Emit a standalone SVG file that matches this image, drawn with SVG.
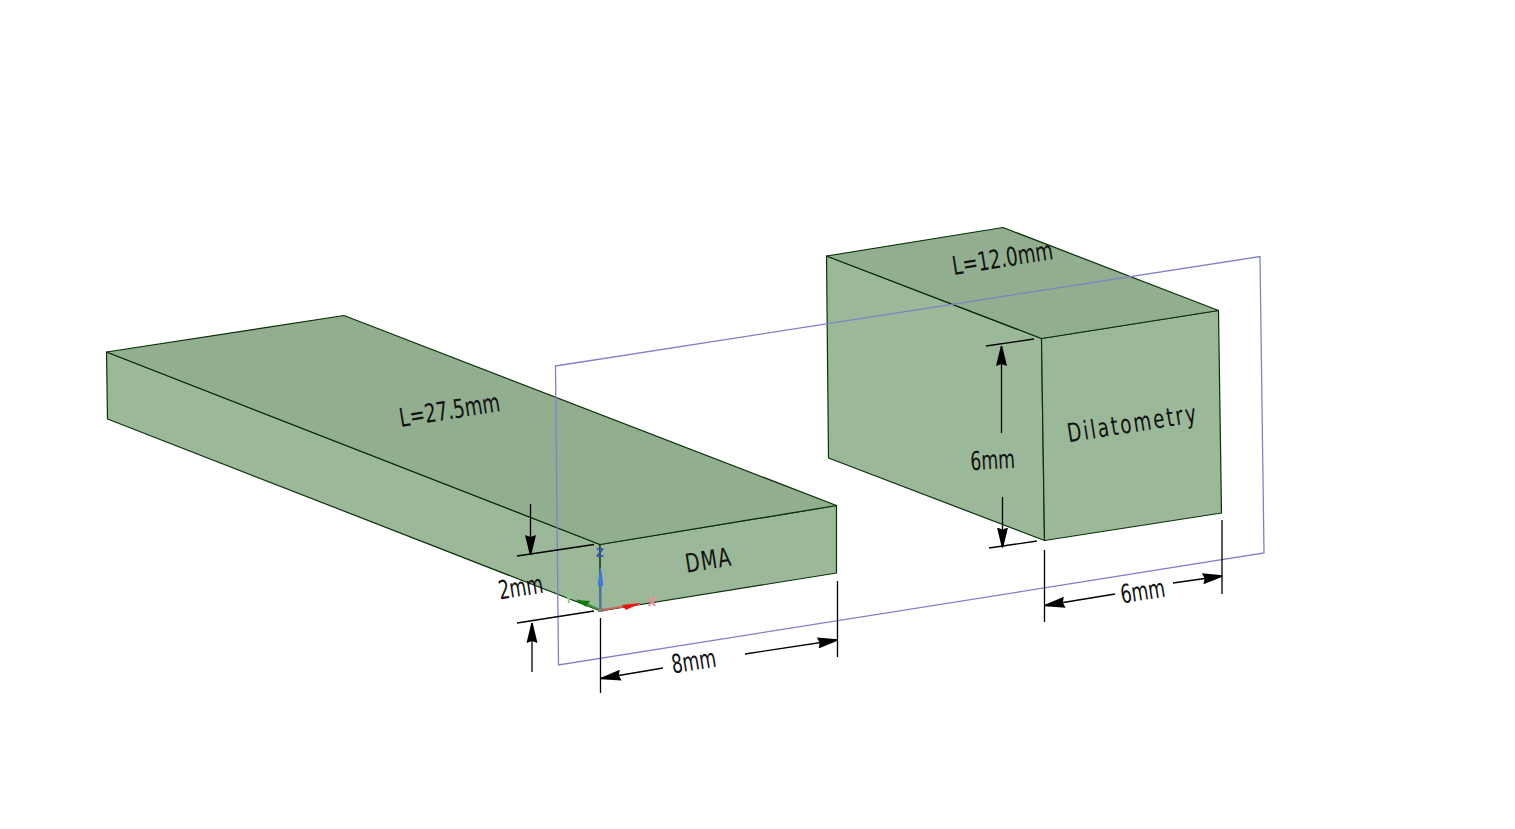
<svg xmlns="http://www.w3.org/2000/svg" width="1515" height="829" viewBox="0 0 1515 829">
<defs>
<marker id="ah" markerUnits="userSpaceOnUse" markerWidth="22" markerHeight="14" refX="20" refY="7" orient="auto-start-reverse" viewBox="0 0 22 14"><path d="M0 1.500L20 6.300L20 7.700L0 12.500L2 7Z" fill="#000"/></marker>
</defs>
<style>
.top{fill:#91ae8f;stroke:#0a300a;stroke-width:1.2;stroke-linejoin:round}
.side{fill:#9bb899;stroke:#0a300a;stroke-width:1.2;stroke-linejoin:round}
.d{fill:none;stroke:#000;stroke-width:1.3}
.a{marker-end:url(#ah)}
.plane{fill:none;stroke:#8080c8;stroke-width:1.3}
text{font-family:"DejaVu Sans Condensed","DejaVu Sans",sans-serif;font-size:26px;fill:#111;text-anchor:middle}
.ax{font-size:12px;font-weight:bold}
</style>
<rect width="1515" height="829" fill="#fff"/>
<g id="dma-block">
<polygon class="side" points="106.500,352 600,544.500 600.500,611 107.500,419"/>
<polygon class="side" points="600,544.500 836.500,505.500 836.500,573 600.500,611"/>
<polygon class="top" points="106.500,352 344,315.500 836.500,505.500 600,544.500"/>
<text transform="translate(710,569) rotate(-9) scale(.8,1)" letter-spacing="1.500">DMA</text>
<text transform="translate(451,419) rotate(-9) scale(.78,1)">L=27.5mm</text>
</g>
<g id="dilatometry-block">
<polygon class="side" points="826.500,256 1041.500,338.500 1044.500,540.500 828.500,458"/>
<polygon class="side" points="1041.500,338.500 1218.500,310.500 1221.500,513 1044.500,540.500"/>
<polygon class="top" points="826.500,256 1003,227.500 1218.500,310.500 1041.500,338.500"/>
<text transform="translate(1134,432) rotate(-9) scale(.78,1)" letter-spacing="2.800">Dilatometry</text>
<text transform="translate(1004,267) rotate(-9) scale(.78,1)">L=12.0mm</text>
</g>
<g id="sketch-plane">
<polygon class="plane" points="555.500,366 1260,256.500 1264,553 558.500,665"/>
</g>
<g id="connectors">
<path class="d" d="M517 556L594 544.500M517 623L594 611"/>
<path class="d a" d="M530.500 504V555"/>
<path class="d a" d="M532 672V623"/>
<path class="d" d="M600.500 618V693M837.500 581V657"/>
<path class="d a" d="M663 668L601 678.500"/>
<path class="d a" d="M745 654L837.500 640"/>
<path class="d" d="M986 346L1034 339M989 548L1037 541"/>
<path class="d a" d="M1001.500 433V346"/>
<path class="d a" d="M1002.500 497V547.500"/>
<path class="d" d="M1044.500 550V622M1222 520V594"/>
<path class="d a" d="M1115 594L1045 605.500"/>
<path class="d a" d="M1173 583L1222.500 576"/>
</g>
<g id="dimension-labels">
<text transform="translate(522,596) rotate(-9) scale(.74,1)">2mm</text>
<text transform="translate(695,670) rotate(-9) scale(.74,1)">8mm</text>
<text transform="translate(993,469) rotate(-3) scale(.74,1)">6mm</text>
<text transform="translate(1144,600) rotate(-9) scale(.74,1)">6mm</text>
</g>
<g id="axes">
<path d="M600.500 610V572" stroke="#4a6fb0" stroke-width="2"/>
<path d="M600.500 566L603 582V586H598V582Z" fill="#3e78e0"/>
<path d="M601 610L640 604" stroke="#c96a5c" stroke-width="2"/>
<path d="M622 605L641 603L626 610Z" fill="#f01010"/>
<path d="M600 610L577 600" stroke="#3f8a3f" stroke-width="2"/>
<path d="M576 600L590 601L586 607Z" fill="#0d7d0d"/>
<rect x="598" y="608" width="5" height="4" fill="#808080"/>
<text class="ax" x="600" y="557" style="fill:#3a56b8">Z</text>
<text class="ax" x="569" y="603" style="fill:#8fc98f">Y</text>
<text class="ax" x="652" y="606" style="fill:#ef8d8d">X</text>
</g>
</svg>
